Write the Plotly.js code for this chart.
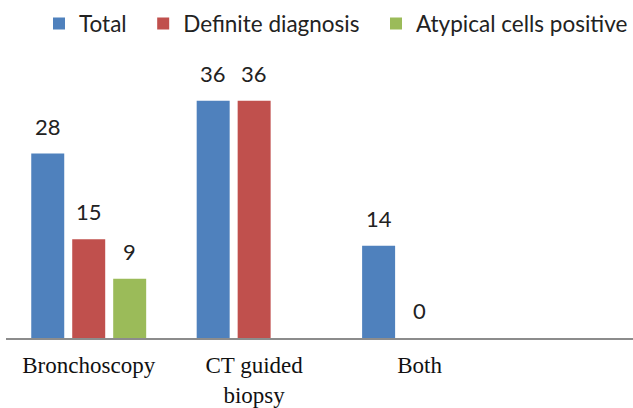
<!DOCTYPE html>
<html><head><meta charset="utf-8">
<script src="https://cdn.plot.ly/plotly-3.0.1.min.js"></script>
<style>html,body{margin:0;padding:0;background:#fff}#c{width:633px;height:408px}</style>
</head><body><div id="c"></div>
<script>
const categories = ["Bronchoscopy", "CT guided", "Both", "Extra"];
const tickLabels = ["Bronchoscopy", "CT guided<br>biopsy", "Both", ""];
const seriesNames = ["Total", "Definite diagnosis", "Atypical cells positive"];
const total = [28, 36, 14, null];
const definite = [15, 36, 0, null];
const atypical = [9, null, null, null];
const colors = ["#4F81BD", "#C0504D", "#9BBB59"];

const series = [total, definite, atypical];
const pad = "\u00a0\u00a0";
const traces = series.map((vals, i) => ({
  type: "bar", name: seriesNames[i] + (i < series.length - 1 ? pad : ""),
  x: categories, y: vals,
  marker: {color: colors[i]}, hoverinfo: "skip"
}));

const slot = 0.248;
const annotations = [];
series.forEach((vals, i) => {
  vals.forEach((v, j) => {
    if (v === null) return;
    annotations.push({
      x: j + (i - 1) * slot, y: v, xref: "x", yref: "y",
      text: String(v), showarrow: false, yanchor: "bottom", yshift: 12,
      font: {family: "Lato, 'Open Sans', sans-serif", size: 22, color: "#222"}
    });
  });
});

const layout = {
  width: 633, height: 408,
  margin: {l: 6, r: 0, t: 60, b: 70},
  paper_bgcolor: "#fff", plot_bgcolor: "#fff",
  barmode: "group", bargap: 0.257, bargroupgap: 0.195,
  showlegend: true,
  legend: {orientation: "h", x: 0.531, xanchor: "center", y: 1.13, yanchor: "middle",
    font: {family: "Lato, 'Open Sans', sans-serif", size: 22.5, color: "#222"},
    itemwidth: 30, tracegroupgap: 0},
  xaxis: {type: "category", range: [-0.5, 3.29], tickvals: categories, ticktext: tickLabels,
    automargin: false,
    showline: true, linecolor: "#8c8c8c", linewidth: 1.5, showgrid: false, zeroline: false,
    ticks: "", ticklabelstandoff: 6,
    tickfont: {family: "'Liberation Serif', 'Times New Roman', serif", size: 23, color: "#111"}},
  yaxis: {range: [0, 42.2], visible: false, showgrid: false, zeroline: false, automargin: false},
  annotations: annotations
};
Plotly.newPlot("c", traces, layout, {displayModeBar: false, staticPlot: true});
</script></body></html>
